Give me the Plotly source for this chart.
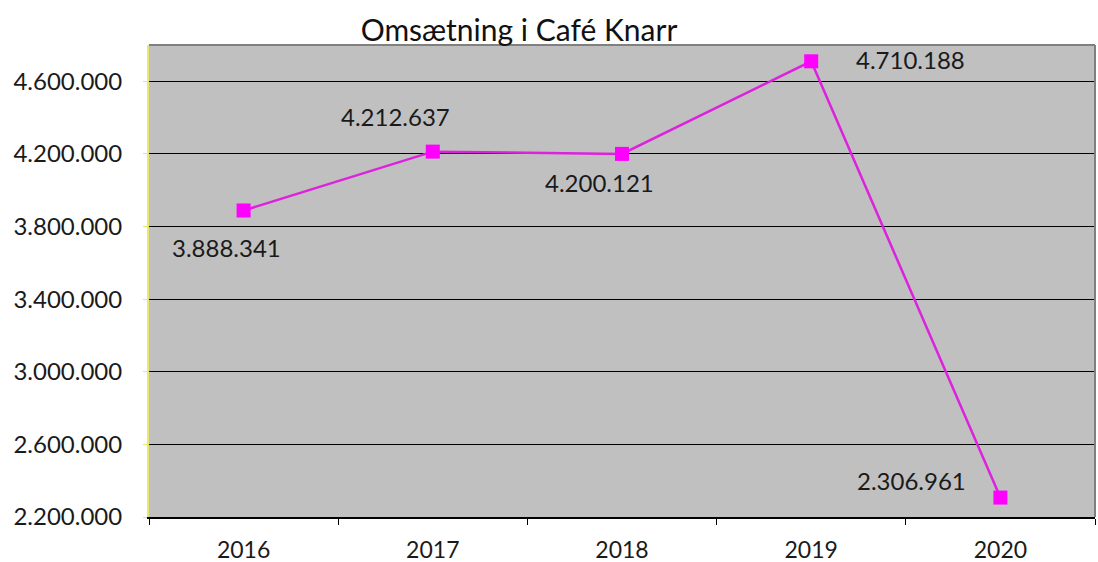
import plotly.graph_objects as go

years = ["2016", "2017", "2018", "2019", "2020"]
revenue = [3888341, 4212637, 4200121, 4710188, 2306961]
y_ticks = [2200000, 2600000, 3000000, 3400000, 3800000, 4200000, 4600000]
title_text = "Omsætning i Café Knarr"

# label offsets (pixels) relative to the marker
label_dx = [-17, -37, -23, 99, -89]
label_dy = [-37, 35, -29, 2, 17]

FONT = "Lato"
TXT = "#1a1a1a"

def fmt(v):
    return f"{v:,}".replace(",", ".")

fig = go.Figure()
fig.add_trace(go.Scatter(
    x=years, y=revenue, mode="lines+markers",
    line=dict(color="#DD22DD", width=2.5),
    marker=dict(symbol="square", size=14, color="#FF00FF"),
    hoverinfo="skip", showlegend=False,
))

for i, (v, dx, dy) in enumerate(zip(revenue, label_dx, label_dy)):
    fig.add_annotation(x=i, y=v, text=fmt(v), showarrow=False,
                       xshift=dx, yshift=dy,
                       font=dict(family=FONT, size=24, color=TXT))

fig.update_layout(
    width=1098, height=562,
    margin=dict(l=149, r=3, t=45, b=45),
    paper_bgcolor="white", plot_bgcolor="#C0C0C0",
    separators=",.",
    font=dict(family=FONT, size=24, color=TXT),
    title=dict(text=title_text, x=519/1098, xref="container", xanchor="center",
               y=1 - 30/562, yref="container", yanchor="middle",
               font=dict(family=FONT, size=30, color="#111111")),
    xaxis=dict(type="category", tickson="boundaries", ticks="outside", ticklen=6,
               tickcolor="black", showline=True, linecolor="black", linewidth=1.5,
               showgrid=False, range=[-0.5, 4.5], ticklabelstandoff=12,
               tickfont=dict(size=23), automargin=False),
    yaxis=dict(range=[2200000, 4800000], tickvals=y_ticks, tickformat=",d",
               showgrid=True, gridcolor="black", gridwidth=1,
               showline=True, linecolor="#E8E870", linewidth=2,
               ticks="outside", ticklen=4, tickcolor="#E8E870",
               ticklabelstandoff=16, zeroline=False, automargin=False),
    shapes=[
        dict(type="line", xref="paper", yref="paper", x0=0, x1=1, y0=1, y1=1,
             line=dict(color="#808080", width=2)),
        dict(type="line", xref="paper", yref="paper", x0=1, x1=1, y0=0, y1=1,
             line=dict(color="#808080", width=2)),
    ],
)

fig.write_html("out.html", config={"displayModeBar": False},
               post_script="document.body.style.margin='0';")
